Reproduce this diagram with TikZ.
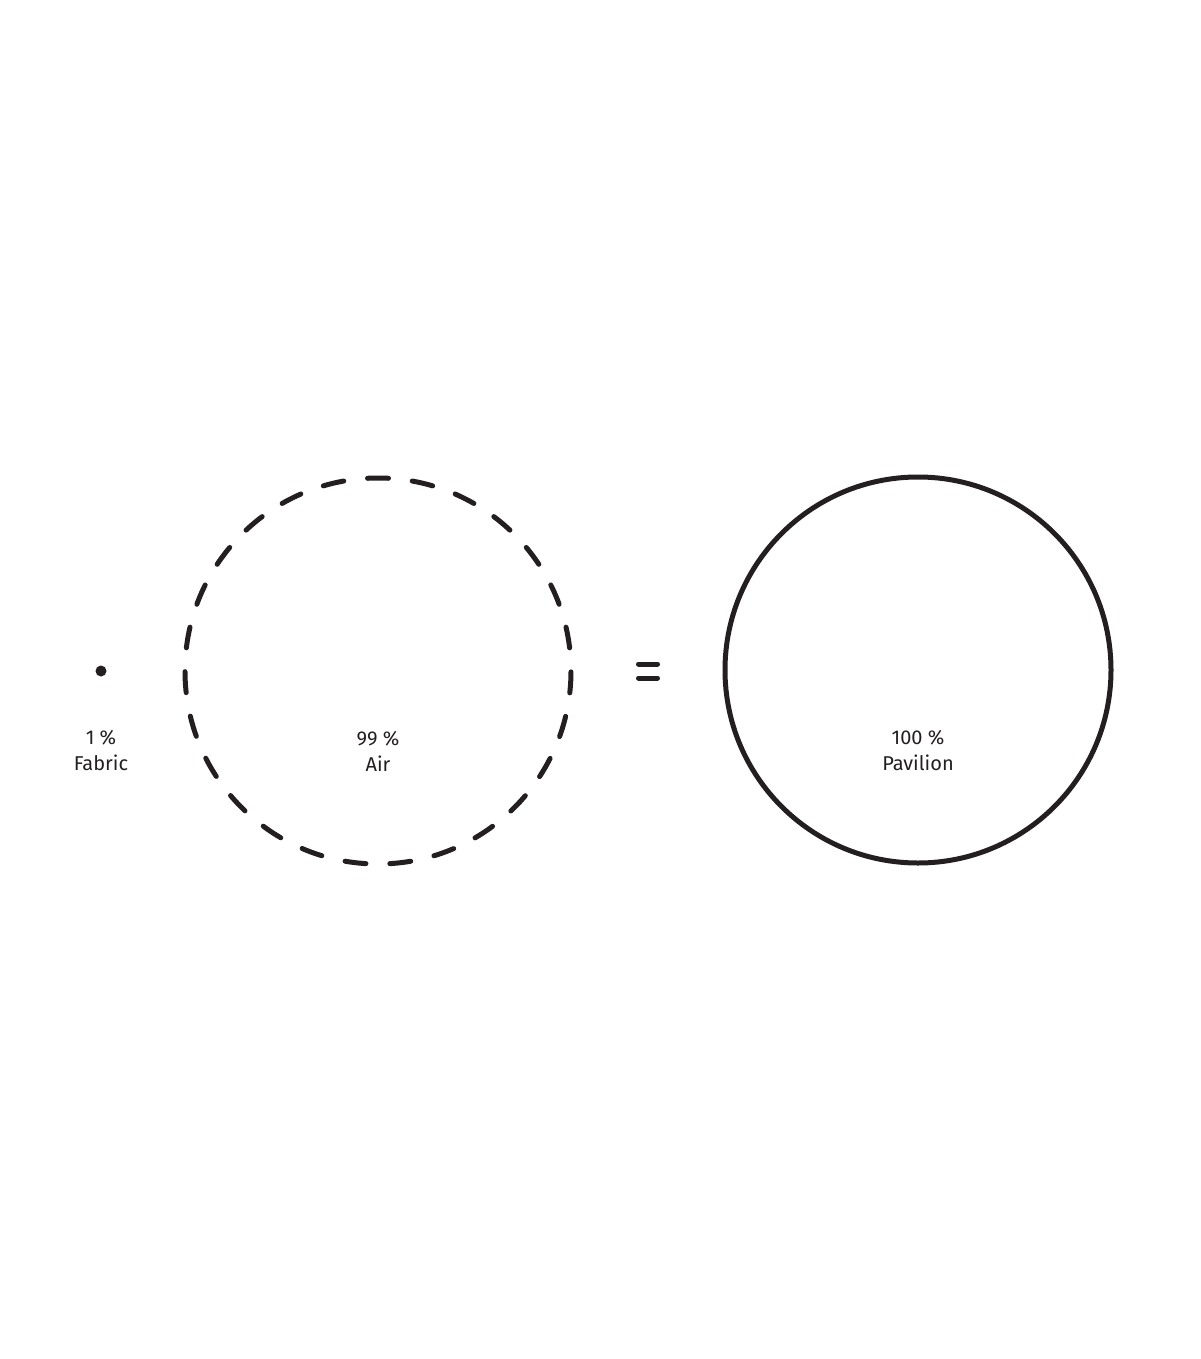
\documentclass[tikz,border=0pt]{standalone}
\usepackage{fontspec}
\setmainfont{Fira Sans}
\usepackage{tikz}
\usetikzlibrary{positioning, calc}
\definecolor{ink}{HTML}{231F20}

\begin{document}
\begin{tikzpicture}[
    x=1pt, y=-1pt,
    ring/.style={circle, draw=ink, line width=5pt, minimum size=386pt, inner sep=0pt},
    airring/.style={ring, line cap=round, dash pattern=on 21pt off 23.91pt, dash phase=21.67pt},
    label/.style={align=center, font=\fontsize{20}{26}\selectfont, text=ink, inner sep=0pt},
    bar/.style={draw=ink, line width=5pt, line cap=round}
]
    \useasboundingbox (0,0) rectangle (1200,1359);

    % Fabric
    \node[circle, fill=ink, minimum size=11pt, inner sep=0pt] (fabric) at (101,671) {};
    \node[label] (fabrictext) at (101,751) {1 \%\\Fabric};

    % Air
    \node[airring] (air) at (378,671) {};
    \node[label] (airtext) at (378,751) {99 \%\\Air};

    % Equals
    \coordinate (eqa) at (638.5,664);
    \coordinate (eqb) at (657.5,664);
    \draw[bar] (eqa) -- (eqb);
    \draw[bar] ($(eqa)+(0,14)$) -- ($(eqb)+(0,14)$);

    % Pavilion
    \node[ring] (pavilion) at (918,670) {};
    \node[label] (paviliontext) at (918,751) {100 \%\\Pavilion};
\end{tikzpicture}
\end{document}
